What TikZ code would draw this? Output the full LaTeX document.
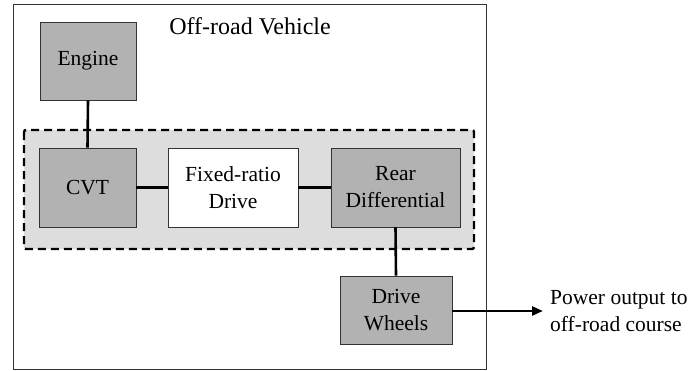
\documentclass[tikz,border=0pt]{standalone}
\usepackage{fontspec}
\setmainfont{Liberation Serif}
\usetikzlibrary{arrows.meta}
\definecolor{boxgray}{HTML}{B2B2B2}
\definecolor{regiongray}{HTML}{DDDDDD}
\definecolor{edgegray}{HTML}{333333}
\begin{document}
\begin{tikzpicture}[x=1pt,y=-1pt,
  blk/.style={draw=edgegray, line width=0.9pt, fill=boxgray, align=center, inner sep=0pt,
    font=\fontsize{21.5}{27}\selectfont},
  wblk/.style={blk, fill=white},
  conn/.style={line width=2.6pt, black},
  lbl/.style={align=left, inner sep=0pt, font=\fontsize{21.5}{27}\selectfont}]
\useasboundingbox (0,0) rectangle (693,370);
% outer frame
\draw[edgegray, line width=1pt] (13,4) rectangle (486,369);
\node[inner sep=0pt, font=\fontsize{24}{28}\selectfont] (title) at (250,26) {Off-road Vehicle};
% region
\draw[fill=regiongray, line width=2.4pt, dash pattern=on 8pt off 5pt, rounded corners=2pt] (24,130) rectangle (474,249);
% blocks
\node[blk, minimum width=96pt, minimum height=78pt] (engine) at (88,61) {Engine};
\node[blk, minimum width=97pt, minimum height=79pt] (cvt) at (87.5,187.5) {CVT};
\node[wblk, minimum width=130pt, minimum height=79pt] (fixed) at (233,187.5) {Fixed-ratio\\Drive};
\node[blk, minimum width=129pt, minimum height=79pt] (rear) at (395.5,187.5) {Rear\\Differential};
\node[blk, minimum width=112pt, minimum height=68pt] (wheels) at (396,310) {Drive\\Wheels};
% connectors
\draw[conn] (engine.south) -- (cvt.north);
\draw[conn] (cvt.east) -- (fixed.west);
\draw[conn] (fixed.east) -- (rear.west);
\draw[conn] (rear.south) -- (wheels.north);
\coordinate (outend) at (543,311);
\draw[conn, -{Stealth[length=11pt, width=9pt, inset=0pt]}] (wheels.east |- 0,311) -- (outend);
\node[lbl, anchor=west] (out) at (550,311) {Power output to\\off-road course};
\end{tikzpicture}
\end{document}
